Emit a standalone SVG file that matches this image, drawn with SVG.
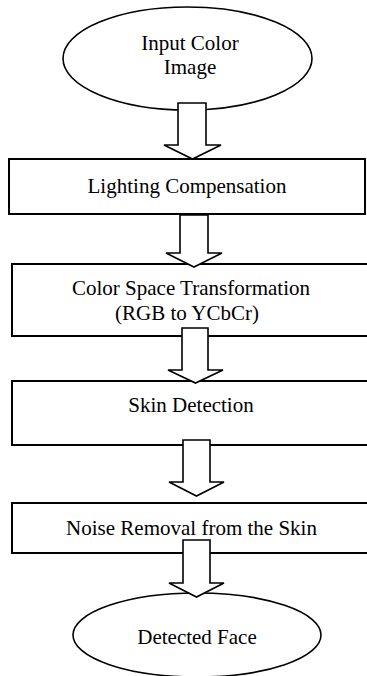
<svg xmlns="http://www.w3.org/2000/svg" width="367" height="676" viewBox="0 0 367 676">
  <style>
    .box { fill: #ffffff; stroke: #000000; stroke-width: 2; }
    .oval { fill: #ffffff; stroke: #000000; stroke-width: 1.6; }
    .arrow { fill: #ffffff; stroke: #000000; stroke-width: 1.6; stroke-linejoin: miter; }
    text { font-family: "Liberation Serif", "Times New Roman", serif; font-size: 21px; fill: #000000; text-anchor: middle; }
  </style>
  <rect width="367" height="676" fill="#ffffff"/>

  <g id="input-image">
    <ellipse class="oval" cx="187.5" cy="58.5" rx="124.5" ry="51.5"/>
    <text x="190" y="50">Input Color</text>
    <text x="190" y="74">Image</text>
  </g>

  <g id="lighting-compensation">
    <rect class="box" x="9" y="159" width="356" height="55"/>
    <text x="187" y="193">Lighting Compensation</text>
  </g>

  <g id="color-space-transformation">
    <rect class="box" x="12" y="264" width="360" height="72"/>
    <text x="191" y="295">Color Space Transformation</text>
    <text x="187" y="320">(RGB to YCbCr)</text>
  </g>

  <g id="skin-detection">
    <rect class="box" x="12" y="381" width="360" height="64"/>
    <text x="191" y="412">Skin Detection</text>
  </g>

  <g id="noise-removal">
    <rect class="box" x="12" y="503" width="360" height="50"/>
    <text x="191.5" y="535">Noise Removal from the Skin</text>
  </g>

  <g id="detected-face">
    <ellipse class="oval" cx="197" cy="635" rx="124" ry="42"/>
    <text x="197" y="644">Detected Face</text>
  </g>

  <g id="connectors">
    <polygon class="arrow" points="178,103 206,103 206,145 221,145 192.5,159 164,145 178,145"/>
    <polygon class="arrow" points="180,215 208,215 208,253 222,253 194,267 166,253 180,253"/>
    <polygon class="arrow" points="182,328 208,328 208,370 223,370 195.5,383 168,370 182,370"/>
    <polygon class="arrow" points="183,440 210,440 210,482 224,482 196.5,496 169,482 183,482"/>
    <polygon class="arrow" points="183,540 210,540 210,583 224,583 196.5,597 169,583 183,583"/>
  </g>
</svg>
